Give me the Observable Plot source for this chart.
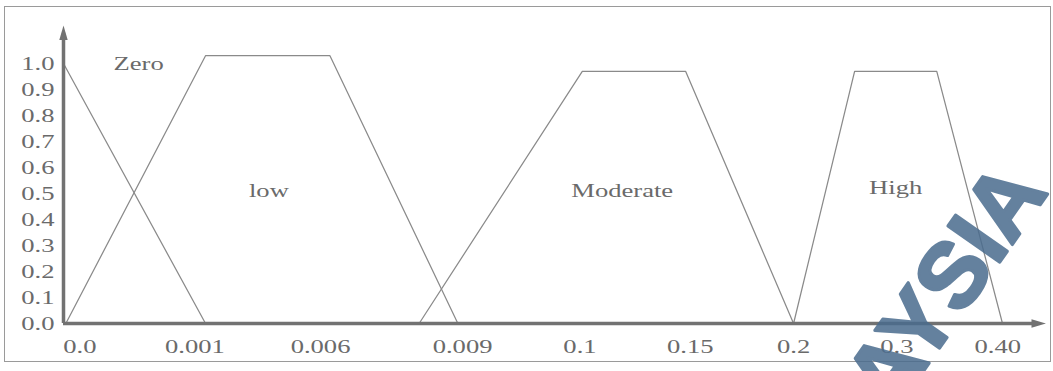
<!DOCTYPE html>
<html><head><meta charset="utf-8">
<script src="https://cdn.jsdelivr.net/npm/d3@7"></script>
<script src="https://cdn.jsdelivr.net/npm/@observablehq/plot@0.6"></script>
<style>
html,body{margin:0;padding:0;background:#fff;}
#wrap{position:relative;width:1053px;height:371px;overflow:hidden;}
#box{position:absolute;left:4px;top:6px;width:1045px;height:354px;border:1px solid #9a9a9a;}
#chart{position:absolute;left:0;top:0;}
#wm{position:absolute;left:0;top:0;pointer-events:none;}
</style></head><body>
<div id="wrap"><div id="box"></div><div id="chart"></div>
<svg id="wm" width="1053" height="371"><text font-family="Liberation Sans" font-weight="bold" font-size="92" text-anchor="end" fill="#4a6c8e" stroke="#4a6c8e" stroke-width="3" stroke-linejoin="round" opacity="0.85" transform="translate(1049,192) rotate(-55)">MALAYSIA</text></svg>
</div>
<script>
// x positions are on the chart's (non-linear) label axis: label i sits near position i
const tickPositions = [0.14, 1.12, 2.19, 3.40, 4.40, 5.34, 6.22, 7.10, 7.96];
const tickLabels = ["0.0", "0.001", "0.006", "0.009", "0.1", "0.15", "0.2", "0.3", "0.40"];
const yTicks = [0, 0.1, 0.2, 0.3, 0.4, 0.5, 0.6, 0.7, 0.8, 0.9, 1.0];

const zeroX = [0, 1.21];
const zeroY = [1.0, 0];
const lowX = [0.02, 1.21, 2.27, 3.36];
const lowY = [0, 1.03, 1.03, 0];
const moderateX = [3.03, 4.42, 5.30, 6.22];
const moderateY = [0, 0.97, 0.97, 0];
const highX = [6.22, 6.74, 7.44, 8.0];
const highY = [0, 0.97, 0.97, 0];

const setNames = ["Zero", "low", "Moderate", "High"];
const setLabelX = [0.64, 1.75, 4.76, 7.09];
const setLabelY = [1.0, 0.51, 0.51, 0.52];

const xAxisEnd = 8.37;
const yAxisTop = 1.146;

const series = [[zeroX, zeroY], [lowX, lowY], [moderateX, moderateY], [highX, highY]];
const lineData = series.flatMap(([xs, ys], k) => xs.map((x, i) => ({set: setNames[k], x, y: ys[i]})));
const labelData = setNames.map((name, i) => ({name, x: setLabelX[i], y: setLabelY[i]}));

// narrow filled arrowhead, tip at the anchor point, pointing up
const arrowHead = {
  draw(ctx, size) {
    const r = Math.sqrt(size / Math.PI);
    ctx.moveTo(0, 0);
    ctx.lineTo(0.7 * r, 2.4 * r);
    ctx.lineTo(-0.7 * r, 2.4 * r);
    ctx.closePath();
  }
};

const axisColor = "#727272";
const lineColor = "#8a8a8a";
const textColor = "#6a6a6a";

const plot = Plot.plot({
  width: 1053,
  height: 371,
  marginLeft: 63,
  marginRight: 51,
  marginTop: 63,
  marginBottom: 48,
  x: {domain: [0, 8], axis: null},
  y: {domain: [0, 1], axis: null},
  style: {fontFamily: "'Liberation Serif', serif", fontSize: "19px", color: textColor, background: "transparent", overflow: "visible"},
  marks: [
    Plot.axisY({ticks: yTicks, tickSize: 0, tickPadding: 9, label: null, tickFormat: d => d.toFixed(1), fill: textColor, fontSize: 19}),
    Plot.axisX({ticks: tickPositions, tickSize: 0, tickPadding: 16, label: null, tickFormat: d => tickLabels[tickPositions.indexOf(d)], fill: textColor, fontSize: 19}),
    Plot.line(lineData, {x: "x", y: "y", z: "set", stroke: lineColor, strokeWidth: 1.25}),
    Plot.ruleX([0], {y1: 0, y2: yAxisTop - 0.03, stroke: axisColor, strokeWidth: 3.5}),
    Plot.ruleY([0], {x1: 0, x2: xAxisEnd - 0.08, stroke: axisColor, strokeWidth: 3.5}),
    Plot.dot([{x: 0, y: yAxisTop}], {x: "x", y: "y", symbol: arrowHead, r: 6, fill: axisColor, stroke: "none"}),
    Plot.dot([{x: xAxisEnd, y: 0}], {x: "x", y: "y", symbol: arrowHead, r: 6, rotate: 90, fill: axisColor, stroke: "none"}),
    Plot.text(labelData, {x: "x", y: "y", text: "name", fill: textColor, fontSize: 19})
  ]
});
document.getElementById("chart").appendChild(plot);

// the scanned text is stretched horizontally: scale each label about its own anchor
plot.querySelectorAll("text").forEach(t => {
  const tr = t.getAttribute("transform") || "";
  const x = parseFloat(t.getAttribute("x"));
  if (Number.isFinite(x) && x !== 0) {
    t.setAttribute("transform", `${tr} translate(${x},0) scale(1.4,1) translate(${-x},0)`);
  } else {
    t.setAttribute("transform", `${tr} scale(1.4,1)`);
  }
});
</script>
</body></html>
